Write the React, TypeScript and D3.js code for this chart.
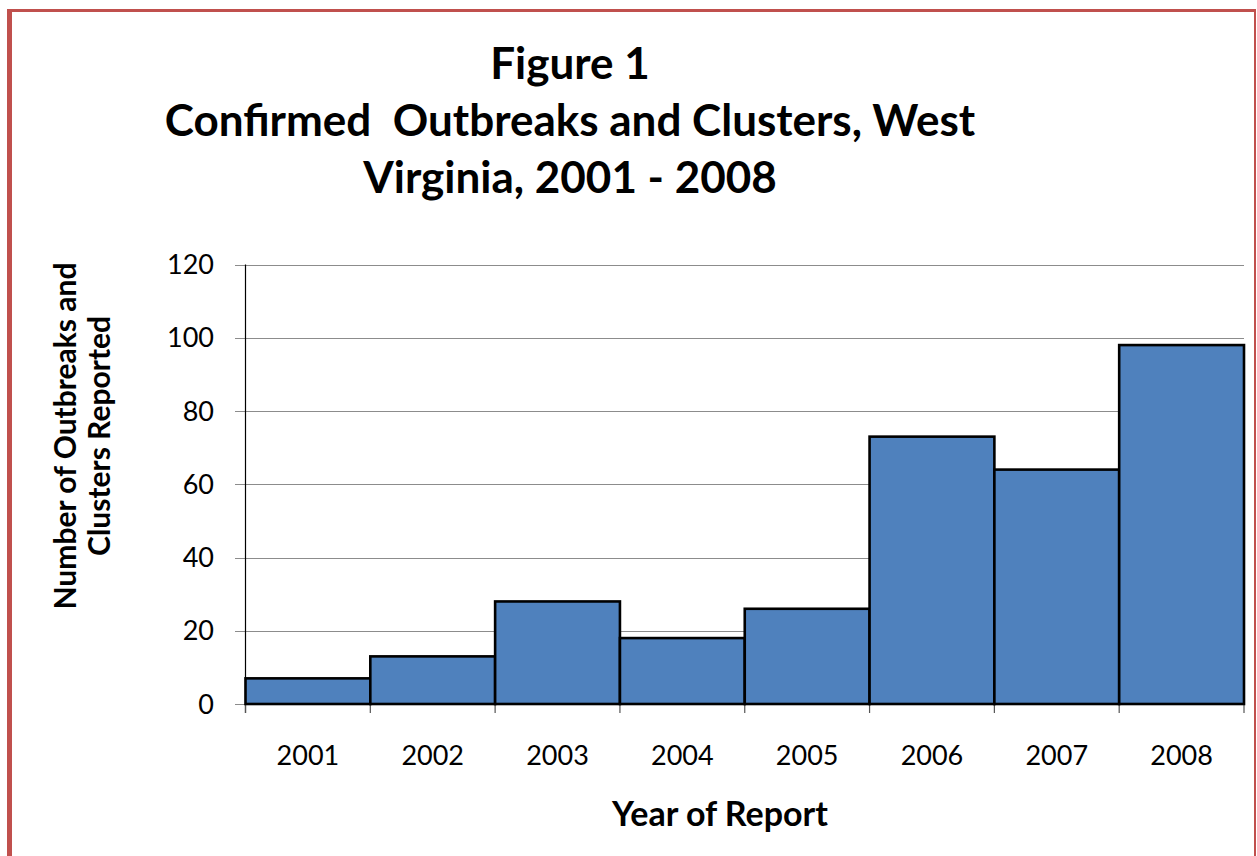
import React, { useEffect, useRef } from 'react';
import * as d3 from 'd3';

const years = ['2001', '2002', '2003', '2004', '2005', '2006', '2007', '2008'];
const counts = [7, 13, 28, 18, 26, 73, 64, 98];
const yTicks = [0, 20, 40, 60, 80, 100, 120];
const titleLines = ['Figure 1', 'Confirmed  Outbreaks and Clusters, West', 'Virginia, 2001 - 2008'];
const yLabelLines = ['Number of Outbreaks and', 'Clusters Reported'];
const xLabel = 'Year of Report';

const W = 1257;
const H = 856;
const FONT = 'Lato, Carlito, Calibri, sans-serif';

export default function App() {
  const svgRef = useRef<SVGSVGElement>(null);

  useEffect(() => {
    if (!svgRef.current) return;
    const svg = d3.select(svgRef.current);
    svg.selectAll('*').remove();

    // frame (red border, thick on the left, thin on the right)
    svg.append('rect').attr('x', 7).attr('y', 9).attr('width', 5).attr('height', H - 9).attr('fill', '#c0504d');
    svg.append('rect').attr('x', 7).attr('y', 9).attr('width', 1249).attr('height', 3).attr('fill', '#c0504d');
    svg.append('rect').attr('x', 1254).attr('y', 9).attr('width', 2).attr('height', H - 9).attr('fill', '#c0504d');

    const left = 245.5;
    const right = 1244;
    const top = 264.5;
    const bottom = 704;

    const x = d3.scaleBand<string>().domain(years).range([left, right]).paddingInner(0).paddingOuter(0);
    const y = d3.scaleLinear().domain([0, 120]).range([bottom, top]);

    // title
    const title = svg.append('text')
      .attr('text-anchor', 'middle')
      .style('font-family', FONT)
      .style('font-weight', 700)
      .style('font-size', '44px')
      .attr('fill', '#000');
    titleLines.forEach((t, i) => {
      title.append('tspan').attr('x', 570).attr('y', 79 + i * 57).style('white-space', 'pre').text(t);
    });

    // gridlines + y ticks
    const grid = svg.append('g');
    yTicks.forEach((t) => {
      grid.append('line')
        .attr('x1', 235).attr('x2', right)
        .attr('y1', Math.round(y(t)) + 0.5).attr('y2', Math.round(y(t)) + 0.5)
        .attr('stroke', '#8c8c8c').attr('stroke-width', 1.2);
      grid.append('text')
        .attr('x', 214).attr('y', y(t) + 9.5)
        .attr('text-anchor', 'end')
        .style('font-family', FONT)
        .style('font-size', '27px')
        .attr('fill', '#000')
        .text(t);
    });

    // y axis line
    svg.append('line')
      .attr('x1', left).attr('x2', left).attr('y1', top).attr('y2', bottom + 9)
      .attr('stroke', '#000').attr('stroke-width', 1.2);

    // x tick marks at bar boundaries
    const bounds = years.map((yr) => x(yr)!).concat([right]);
    bounds.forEach((b) => {
      svg.append('line')
        .attr('x1', b).attr('x2', b).attr('y1', bottom).attr('y2', bottom + 9)
        .attr('stroke', '#555').attr('stroke-width', 1.2);
    });

    // bars
    svg.append('g')
      .selectAll('rect')
      .data(counts)
      .enter()
      .append('rect')
      .attr('x', (_, i) => x(years[i])!)
      .attr('y', (d) => y(d))
      .attr('width', x.bandwidth())
      .attr('height', (d) => bottom - y(d))
      .attr('fill', '#4f81bd')
      .attr('stroke', '#000')
      .attr('stroke-width', 2.6);

    // x labels
    svg.append('g')
      .selectAll('text')
      .data(years)
      .enter()
      .append('text')
      .attr('x', (d) => x(d)! + x.bandwidth() / 2)
      .attr('y', 765)
      .attr('text-anchor', 'middle')
      .style('font-family', FONT)
      .style('font-size', '27px')
      .attr('fill', '#000')
      .text((d) => d);

    // axis titles
    svg.append('text')
      .attr('x', 720).attr('y', 826)
      .attr('text-anchor', 'middle')
      .style('font-family', FONT)
      .style('font-weight', 700)
      .style('font-size', '34px')
      .attr('fill', '#000')
      .text(xLabel);

    const yl = svg.append('text')
      .attr('transform', 'translate(0,436) rotate(-90)')
      .attr('text-anchor', 'middle')
      .style('font-family', FONT)
      .style('font-weight', 700)
      .style('font-size', '30px')
      .attr('fill', '#000');
    yLabelLines.forEach((t, i) => {
      yl.append('tspan').attr('x', 0).attr('y', 76 + i * 34).text(t);
    });
  }, []);

  return (
    <svg
      ref={svgRef}
      width={W}
      height={H}
      style={{ position: 'absolute', left: 0, top: 0, background: '#fff' }}
    />
  );
}
